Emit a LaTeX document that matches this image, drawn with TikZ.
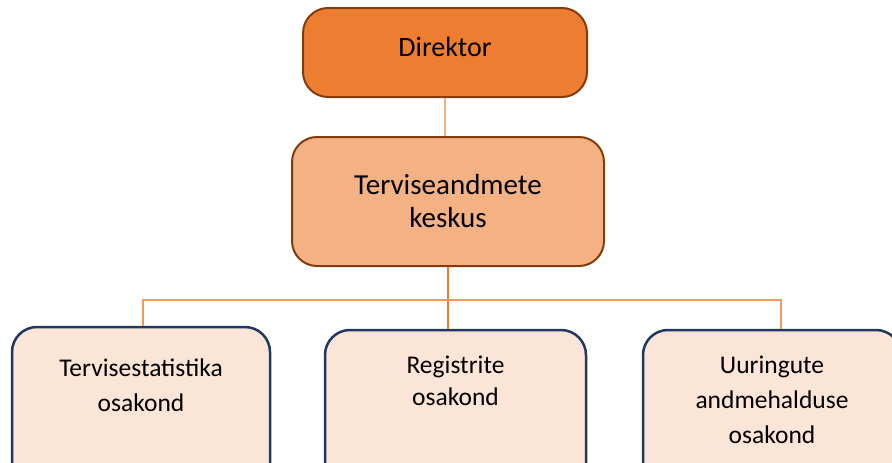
\documentclass[tikz,border=0pt]{standalone}
\usepackage{fontspec}
\setmainfont{Carlito}
\usetikzlibrary{positioning}

\definecolor{topfill}{HTML}{ED7D31}
\definecolor{midfill}{HTML}{F4B183}
\definecolor{lowfill}{HTML}{FBE5D6}
\definecolor{brownline}{HTML}{843C0C}
\definecolor{navyline}{HTML}{1F3864}
\definecolor{linkline}{HTML}{F29A5C}

\begin{document}
\begin{tikzpicture}[x=1pt,y=-1pt,
        headbox/.style={draw=brownline, line width=2pt, rounded corners=25pt, inner sep=0pt},
        deptbox/.style={draw=navyline, fill=lowfill, line width=2.5pt, rounded corners=25pt, minimum width=258pt, minimum height=172pt},
        depttext/.style={align=center, inner sep=0pt, font=\fontsize{25.5}{35}\selectfont},
        link/.style={draw=linkline, line width=1.5pt}]
        \useasboundingbox (0,0) rectangle (892,463);
        \clip (0,0) rectangle (892,463);
        % top of the chart
        \node[headbox, fill=topfill, minimum width=284pt, minimum height=89pt, text depth=12pt,
              font=\fontsize{28}{34}\selectfont] (dir) at (445,52.5) {Direktor};
        \node[headbox, fill=midfill, minimum width=312pt, minimum height=129pt, align=center,
              font=\fontsize{29}{33}\selectfont] (keskus) at (448,201.5) {Terviseandmete\\keskus};
        % departments
        \node[deptbox] (stat) at (141,413) {};
        \node[deptbox, minimum width=261pt] (reg) at (455.5,416) {};
        \node[deptbox] (uur) at (772,416) {};
        \node[depttext, below=33pt of stat.north] (stattext) {Tervisestatistika\\osakond};
        \node[depttext, below=27pt of reg.north, font=\fontsize{25.5}{32}\selectfont] (regtext) {Registrite\\osakond};
        \node[depttext, below=27pt of uur.north] (uurtext) {Uuringute\\andmehalduse\\osakond};
        % connectors
        \coordinate (busl) at (143,300);
        \coordinate (busr) at (781,300);
        \draw[link, draw=midfill] (dir.south) -- (dir.south |- keskus.north);
        \draw[link, draw=topfill] (keskus.south) -- (keskus.south |- reg.north);
        \draw[link] (busl |- stat.north) -- (busl) -- (busr) -- (busr |- uur.north);
\end{tikzpicture}
\end{document}
